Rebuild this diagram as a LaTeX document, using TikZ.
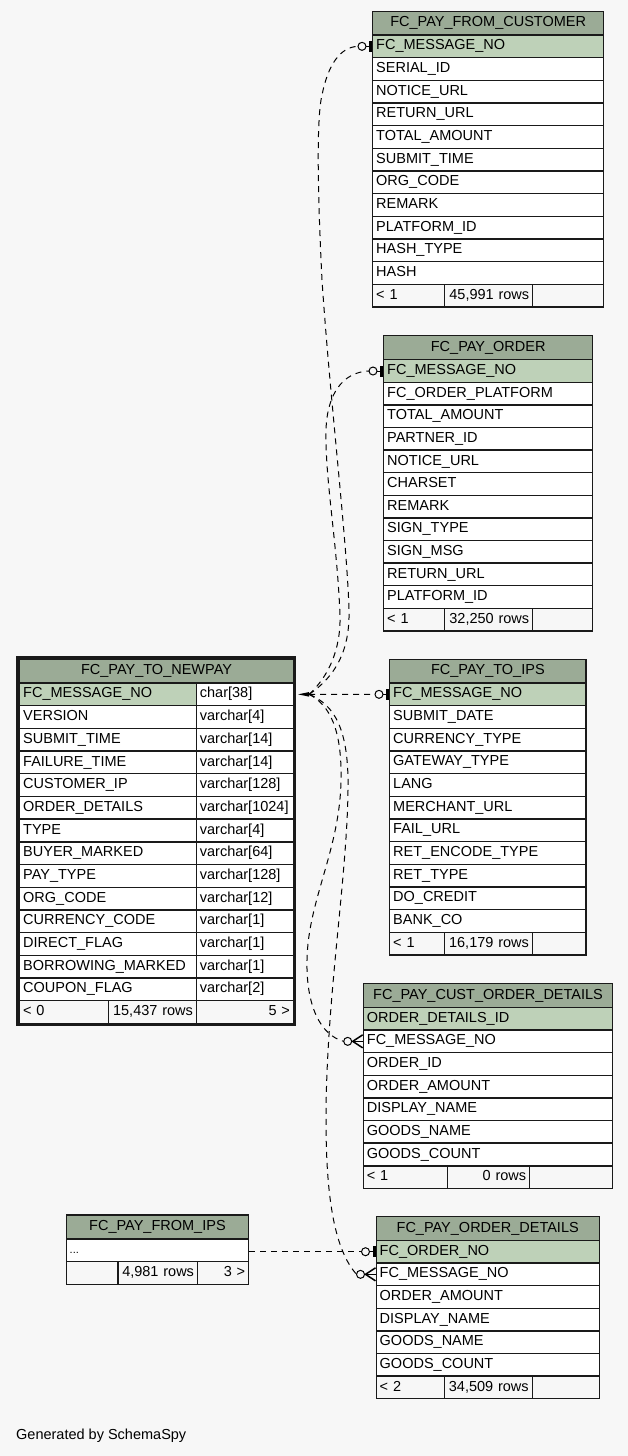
\documentclass[tikz,border=0pt]{standalone}
\usepackage{fontspec}
\setmainfont{Liberation Sans}
\usetikzlibrary{calc}
\definecolor{bgc}{HTML}{F7F7F7}
\definecolor{hdrc}{HTML}{9BAB96}
\definecolor{pkc}{HTML}{BED1B8}
\definecolor{footc}{HTML}{F7F7F7}
\definecolor{edgec}{HTML}{1A1A1A}
\tikzset{
  cellbase/.style={draw=edgec, line width=1.4pt, anchor=north west, inner xsep=3.5pt, inner ysep=0pt, text height=10.4pt, text depth=3.2pt},
  hdrcell/.style={cellbase, fill=hdrc, align=center},
  rowcell/.style={cellbase, align=left},
  footcell/.style={cellbase, fill=footc},
  conn/.style={draw=black, line width=1pt, dash pattern=on 6pt off 5pt},
  markline/.style={draw=black, line width=1pt},
}
% header: id, xl, xr, ytop, yhb, text
\newcommand{\erdhead}[6]{%
  \pgfmathsetmacro\hw{#3-#2}%
  \pgfmathsetmacro\hh{#5-#4}%
  \node[hdrcell, minimum width=\hw pt, minimum height=\hh pt] (#1) at (#2,#4) {#6};
}
% rows: id, xl, xr, yhb, rowheight, list (first row is primary key)
\newcommand{\erdrows}[6]{%
  \pgfmathsetmacro\tw{#3-#2-7}%
  \foreach \txt [count=\i] in {#6} {%
    \pgfmathsetmacro\yy{#4+(\i-1)*#5}%
    \ifnum\i=1\relax\def\rowfill{pkc}\else\def\rowfill{white}\fi
    \node[rowcell, fill=\rowfill, text width=\tw pt, minimum height=#5 pt] (#1-\i) at (#2,\yy) {\txt};
  }%
}
% footer cell: name, x1, x2, y, h, align, text
\newcommand{\fcell}[7]{%
  \pgfmathsetmacro\fw{#3-#2-7}%
  \node[footcell, text width=\fw pt, align=#6, minimum height=#5 pt] (#1) at (#2,#4) {#7};
}
% zero-or-one end marker at a cell's west side; #2 = name of the free end
\newcommand{\zeroone}[2]{%
  \coordinate (#2) at ($(#1)+(-14,0)$);
  \draw[markline] ($(#1)+(-6,0)$) -- ($(#1)+(-2.5,0)$);
  \draw[markline] ($(#1)+(-10,0)$) circle[radius=4];
  \fill[black] ($(#1)+(-3,-5.5)$) rectangle ($(#1)+(0,5.5)$);
}
% zero-or-many end marker
\newcommand{\zeromany}[2]{%
  \coordinate (#2) at ($(#1)+(-19,0)$);
  \draw[markline] ($(#1)+(-15,0)$) circle[radius=4];
  \draw[markline] ($(#1)+(-11,0)$) -- ($(#1)+(-9.5,0)$);
  \draw[black, line width=1.5pt] ($(#1)+(0,-6.5)$) -- ($(#1)+(-10,0)$) -- ($(#1)+(0,6.5)$);
  \draw[black, line width=1.3pt] ($(#1)+(-10,0)$) -- (#1);
}
\begin{document}
\begin{tikzpicture}[x=1pt,y=-1pt, font=\fontsize{14.5}{17}\selectfont]
\fill[bgc] (0,0) rectangle (628,1456);
\useasboundingbox (0,0) rectangle (628,1456);

% FC_PAY_FROM_CUSTOMER
\erdhead{cust}{372}{603}{10.5}{34.3}{FC\_PAY\_FROM\_CUSTOMER}
\erdrows{cust}{372}{603}{34.3}{22.67}{FC\_MESSAGE\_NO, SERIAL\_ID, NOTICE\_URL, RETURN\_URL, TOTAL\_AMOUNT, SUBMIT\_TIME, ORG\_CODE, REMARK, PLATFORM\_ID, HASH\_TYPE, HASH}
\fcell{cust-fa}{372}{444}{283.7}{22.67}{left}{< 1}
\fcell{cust-fb}{444}{532}{283.7}{22.67}{right}{45,991 rows}
\fcell{cust-fc}{532}{603}{283.7}{22.67}{right}{}

% FC_PAY_ORDER
\erdhead{ord}{383}{592}{335}{359}{FC\_PAY\_ORDER}
\erdrows{ord}{383}{592}{359}{22.6}{FC\_MESSAGE\_NO, FC\_ORDER\_PLATFORM, TOTAL\_AMOUNT, PARTNER\_ID, NOTICE\_URL, CHARSET, REMARK, SIGN\_TYPE, SIGN\_MSG, RETURN\_URL, PLATFORM\_ID}
\fcell{ord-fa}{383}{444}{607.6}{22.6}{left}{< 1}
\fcell{ord-fb}{444}{532}{607.6}{22.6}{right}{32,250 rows}
\fcell{ord-fc}{532}{592}{607.6}{22.6}{right}{}

% FC_PAY_TO_IPS
\erdhead{ips}{389}{585.3}{658.5}{682.3}{FC\_PAY\_TO\_IPS}
\erdrows{ips}{389}{585.3}{682.3}{22.67}{FC\_MESSAGE\_NO, SUBMIT\_DATE, CURRENCY\_TYPE, GATEWAY\_TYPE, LANG, MERCHANT\_URL, FAIL\_URL, RET\_ENCODE\_TYPE, RET\_TYPE, DO\_CREDIT, BANK\_CO}
\fcell{ips-fa}{389}{444}{931.7}{22.67}{left}{< 1}
\fcell{ips-fb}{444}{531.7}{931.7}{22.67}{right}{16,179 rows}
\fcell{ips-fc}{531.7}{585.3}{931.7}{22.67}{right}{}

% FC_PAY_TO_NEWPAY
\erdhead{np}{19}{292.7}{659}{682.3}{FC\_PAY\_TO\_NEWPAY}
\foreach \a/\b [count=\i] in {FC\_MESSAGE\_NO/char[38], VERSION/varchar[4], SUBMIT\_TIME/varchar[14], FAILURE\_TIME/varchar[14], CUSTOMER\_IP/varchar[128], ORDER\_DETAILS/varchar[1024], TYPE/varchar[4], BUYER\_MARKED/varchar[64], PAY\_TYPE/varchar[128], ORG\_CODE/varchar[12], CURRENCY\_CODE/varchar[1], DIRECT\_FLAG/varchar[1], BORROWING\_MARKED/varchar[1], COUPON\_FLAG/varchar[2]} {
  \pgfmathsetmacro\yy{682.3+(\i-1)*22.69}
  \ifnum\i=1\relax\def\rowfill{pkc}\else\def\rowfill{white}\fi
  \node[rowcell, fill=\rowfill, text width=169.7pt, minimum height=22.69pt] (npa-\i) at (19,\yy) {\a};
  \node[rowcell, fill=white, text width=90pt, minimum height=22.69pt] (npb-\i) at (195.7,\yy) {\b};
}
\fcell{np-fa}{19}{107.7}{1000}{22.69}{left}{< 0}
\fcell{np-fb}{107.7}{195.7}{1000}{22.69}{right}{15,437 rows}
\fcell{np-fc}{195.7}{292.7}{1000}{22.69}{right}{5 >}
\draw[edgec, line width=3.2pt] (17.4,657.2) rectangle (294.2,1024.1);

% FC_PAY_CUST_ORDER_DETAILS
\erdhead{cod}{362.7}{612}{982.7}{1006.7}{FC\_PAY\_CUST\_ORDER\_DETAILS}
\erdrows{cod}{362.7}{612}{1006.7}{22.63}{ORDER\_DETAILS\_ID, FC\_MESSAGE\_NO, ORDER\_ID, ORDER\_AMOUNT, DISPLAY\_NAME, GOODS\_NAME, GOODS\_COUNT}
\fcell{cod-fa}{362.7}{446.7}{1165.1}{22.63}{left}{< 1}
\fcell{cod-fb}{446.7}{529}{1165.1}{22.63}{right}{0 rows}
\fcell{cod-fc}{529}{612}{1165.1}{22.63}{right}{}

% FC_PAY_ORDER_DETAILS
\erdhead{od}{375.5}{598.5}{1216}{1239.7}{FC\_PAY\_ORDER\_DETAILS}
\erdrows{od}{375.5}{598.5}{1239.7}{22.62}{FC\_ORDER\_NO, FC\_MESSAGE\_NO, ORDER\_AMOUNT, DISPLAY\_NAME, GOODS\_NAME, GOODS\_COUNT}
\fcell{od-fa}{375.5}{443.5}{1375.4}{22.62}{left}{< 2}
\fcell{od-fb}{443.5}{531.5}{1375.4}{22.62}{right}{34,509 rows}
\fcell{od-fc}{531.5}{598.5}{1375.4}{22.62}{right}{}

% FC_PAY_FROM_IPS
\erdhead{fips}{65.5}{248}{1214.3}{1238.3}{FC\_PAY\_FROM\_IPS}
\node[rowcell, fill=white, text width=175.5pt, minimum height=22.7pt, font=\fontsize{11}{12}\selectfont] (fips-1) at (65.5,1238.3) {...};
\fcell{fips-fa}{65.5}{117.2}{1261}{22.7}{left}{}
\fcell{fips-fb}{117.2}{196.8}{1261}{22.7}{right}{4,981 rows}
\fcell{fips-fc}{196.8}{248}{1261}{22.7}{right}{3 >}

% footer text
\node[anchor=base west, inner sep=0pt] (gen) at (16,1439) {Generated by SchemaSpy};

% end markers
\zeroone{cust-1.west}{cust-e}
\zeroone{ord-1.west}{ord-e}
\zeroone{ips-1.west}{ips-e}
\zeroone{od-1.west}{od1-e}
\zeromany{cod-2.west}{cod-e}
\zeromany{od-2.west}{od2-e}

% parent end at FC_PAY_TO_NEWPAY.FC_MESSAGE_NO
\coordinate (hub) at ($(npb-1.east)+(15,0)$);
\fill[black] ($(npb-1.east)+(4,0)$) -- ($(npb-1.east)+(15,-2.3)$) -- ($(npb-1.east)+(15,2.3)$) -- cycle;

% connectors
\draw[conn] (hub) .. controls (336,676) and (350,650) .. (349,610)
  .. controls (347,540) and (330,400) .. (322,280)
  .. controls (318,200) and (316,120) .. (322,95)
  .. controls (328,65) and (340,47) .. (cust-e);
\draw[conn] (hub) .. controls (328,677) and (341,650) .. (340,615)
  .. controls (337,540) and (325,480) .. (326,430)
  .. controls (327,395) and (342,372) .. (ord-e);
\draw[conn] (hub) -- (ips-e);
\draw[conn] (hub) .. controls (330,705) and (342,730) .. (341,780)
  .. controls (340,850) and (308,900) .. (307,960)
  .. controls (306,1005) and (320,1035) .. (cod-e);
\draw[conn] (hub) .. controls (335,705) and (349,730) .. (348,790)
  .. controls (347,880) and (326,1000) .. (326,1120)
  .. controls (326,1200) and (335,1250) .. (od2-e);
\draw[conn] (fips-1.east |- od-1.west) -- (od1-e);
\end{tikzpicture}
\end{document}
